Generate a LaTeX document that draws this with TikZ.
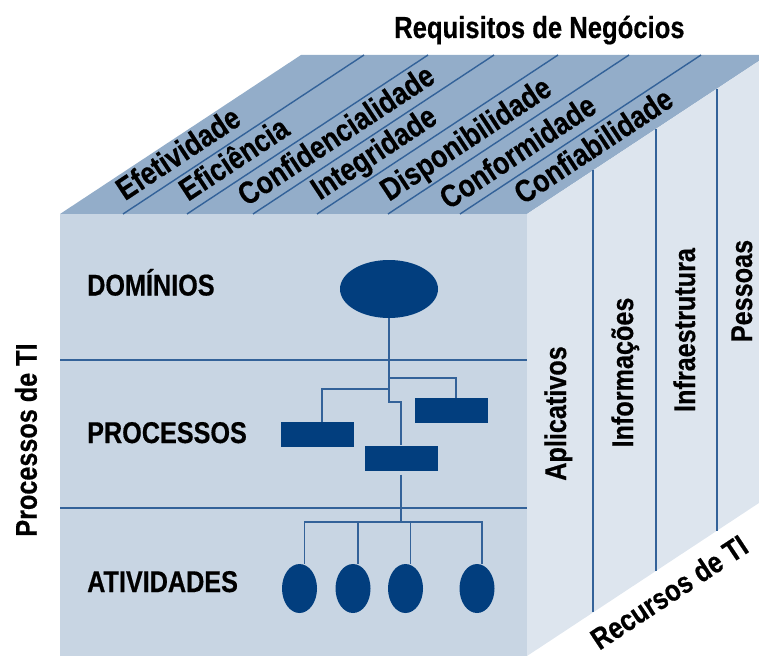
\documentclass[tikz,border=0pt]{standalone}
\usepackage{fontspec}
\setmainfont{Liberation Sans}[FakeStretch=0.84, BoldFeatures={FakeBold=0.5}]
\usetikzlibrary{shapes.geometric}
\definecolor{topc}{HTML}{93ADC9}
\definecolor{frontc}{HTML}{C8D5E3}
\definecolor{rightc}{HTML}{DDE5EE}
\definecolor{linec}{HTML}{336299}
\definecolor{shapec}{HTML}{023E7E}
\begin{document}
\begin{tikzpicture}[x=1pt,y=-1pt,
  lbl/.style={font=\bfseries\fontsize{30}{30}\selectfont, inner sep=0pt, text=black},
  titlelbl/.style={font=\bfseries\fontsize{30.5}{30.5}\selectfont, inner sep=0pt, text=black},
  toplbl/.style={font=\bfseries\fontsize{31.5}{31.5}\selectfont, inner sep=0pt, text=black, rotate=33.42, anchor=base west},
  sidelbl/.style={lbl, rotate=90, anchor=base},
  sep/.style={draw=linec, line width=1.4pt},
  conn/.style={draw=linec, line width=1.8pt},
  bigell/.style={ellipse, fill=shapec, minimum width=98pt, minimum height=58pt, inner sep=0pt},
  actell/.style={ellipse, fill=shapec, minimum width=35pt, minimum height=49pt, inner sep=0pt},
  procbox/.style={rectangle, fill=shapec, minimum width=73pt, minimum height=25pt, inner sep=0pt}]
\useasboundingbox (0,0) rectangle (759,655);
\clip (0,0) rectangle (759,655);
% faces
\fill[topc] (60,214) -- (301,55) -- (768,55) -- (527,214) -- cycle;
\fill[frontc] (60,214) rectangle (527,660);
\fill[rightc] (527,214) -- (768,55) -- (768,497) -- (527,656) -- cycle;
% top face separators
\foreach \b in {123,187,253,317,388,460}
  \draw[sep] (\b,214) -- (\b+241,55);
% right face separators
\draw[sep] (593,170.4) -- (593,612.4);
\draw[sep] (656,128.9) -- (656,570.9);
\draw[sep] (717,88.6) -- (717,530.6);
% front face separators
\draw[sep] (60,360) -- (527,360);
\draw[sep] (60,508) -- (527,508);
% title
\node[titlelbl, anchor=base west] (title) at (394,38) {Requisitos de Negócios};
% top labels
\node[toplbl] (l1) at (125,201.3) {Efetividade};
\node[toplbl] (l2) at (188.1,201.9) {Eficiência};
\node[toplbl] (l3) at (246.6,206.9) {Confidencialidade};
\node[toplbl] (l4) at (319.8,200.8) {Integridade};
\node[toplbl] (l5) at (389.1,201.9) {Disponibilidade};
\node[toplbl] (l6) at (448.6,210.2) {Conformidade};
\node[toplbl] (l7) at (523.1,205.2) {Confiabilidade};
% right face labels
\node[sidelbl] (r1) at (566,413.5) {Aplicativos};
\node[sidelbl] (r2) at (633,372.5) {Informações};
\node[sidelbl] (r3) at (695,330) {Infraestrutura};
\node[sidelbl] (r4) at (752,291) {Pessoas};
\node[lbl, rotate=33.42] (rec) at (669,592) {Recursos de TI};
% left
\node[lbl, rotate=90] (proc) at (26,440) {Processos de TI};
\node[lbl, anchor=base west] (tdom) at (87,295.5) {DOMÍNIOS};
\node[lbl, anchor=base west] (tproc) at (87,443) {PROCESSOS};
\node[lbl, anchor=base west] (tativ) at (87,592) {ATIVIDADES};
% tree
\node[bigell] (dom) at (389,289) {};
\node[procbox] (p1) at (317,434.5) {};
\node[procbox] (p2) at (451,410.5) {};
\node[procbox] (p3) at (401,458) {};
\node[actell] (a1) at (299.5,588.5) {};
\node[actell] (a2) at (353,588.5) {};
\node[actell] (a3) at (405.5,588.5) {};
\node[actell] (a4) at (477,588.5) {};
\coordinate (s1) at (389,378);
\coordinate (s2) at (389,389);
\coordinate (s3) at (389,402);
\coordinate (bus) at (401,522);
\draw[conn] (dom.south) -- (s3) -| (p3.north);
\draw[conn] (s1) -| ([xshift=5pt]p2.north);
\draw[conn] (s2) -| ([xshift=5pt]p1.north);
\draw[conn] ([yshift=-4pt]p3.south) -- (bus);
\draw[conn] ([xshift=5pt]a1.north) |- ([xshift=5pt]a4.north |- bus) -- ([xshift=5pt]a4.north);
\draw[conn] ([xshift=5pt]a2.north) -- ([xshift=5pt]a2.north |- bus);
\draw[conn] ([xshift=5pt]a3.north) -- ([xshift=5pt]a3.north |- bus);
\end{tikzpicture}
\end{document}
